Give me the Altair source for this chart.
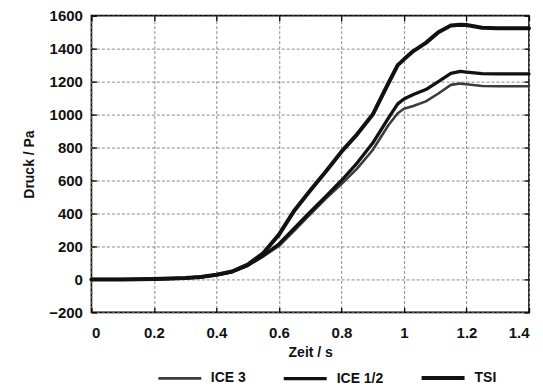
import altair as alt
import pandas as pd

# ---- data ----
series_names = ["ICE 3", "ICE 1/2", "TSI"]
time_s = [0, 0.1, 0.2, 0.3, 0.35, 0.4, 0.45, 0.5, 0.55, 0.6, 0.65, 0.7, 0.75, 0.8,
          0.85, 0.9, 0.95, 0.98, 1.0, 1.03, 1.07, 1.11, 1.15, 1.18, 1.2, 1.25, 1.3, 1.4]
tsi = [0, 0, 2, 8, 15, 28, 48, 90, 160, 272, 420, 540, 655, 775,
       880, 1000, 1190, 1300, 1335, 1385, 1435, 1500, 1540, 1545, 1543, 1527, 1524, 1524]
ice12 = [0, 0, 2, 8, 15, 28, 46, 85, 145, 215, 312, 409, 504, 600,
         706, 827, 978, 1065, 1095, 1122, 1152, 1200, 1250, 1262, 1258, 1248, 1247, 1247]
ice3 = [0, 0, 2, 8, 15, 28, 45, 83, 140, 203, 298, 395, 490, 578,
        672, 785, 935, 1008, 1035, 1052, 1080, 1128, 1180, 1188, 1184, 1173, 1172, 1172]

x_ticks = [0, 0.2, 0.4, 0.6, 0.8, 1.0, 1.2, 1.4]
y_ticks = [-200, 0, 200, 400, 600, 800, 1000, 1200, 1400, 1600]

rows = []
for name, vals in zip(series_names, [ice3, ice12, tsi]):
    for t, v in zip(time_s, vals):
        rows.append({"Zeit": t, "Druck": v, "Serie": name})
df = pd.DataFrame(rows)

FONT = "Liberation Sans"
xscale = alt.Scale(domain=[0, 1.4], nice=False, zero=False)
yscale = alt.Scale(domain=[-200, 1600], nice=False, zero=False)

x_main = alt.Axis(values=x_ticks, title="Zeit / s", grid=True, ticks=False, domain=False,
                  labelExpr="datum.value == 1 ? '1' : format(datum.value, '.1f') == '0.0' ? '0' : format(datum.value, '.1f')",
                  labelPadding=13, titlePadding=5)
y_main = alt.Axis(values=y_ticks, title="Druck / Pa", grid=True, ticks=False, domain=False,
                  format="d", labelPadding=9, titlePadding=12)

lines = alt.Chart(df).mark_line(strokeCap="round", strokeJoin="round").encode(
    x=alt.X("Zeit:Q", scale=xscale, axis=x_main),
    y=alt.Y("Druck:Q", scale=yscale, axis=y_main),
    color=alt.Color("Serie:N", sort=series_names,
                    scale=alt.Scale(domain=series_names, range=["#3c3c3c", "#111111", "#111111"]),
                    legend=alt.Legend(orient="none", legendX=65.5, legendY=339, direction="horizontal",
                                      title=None, symbolType="stroke", symbolSize=1849,
                                      symbolStrokeWidth=3.5, labelOffset=8,
                                      labelFontSize=14, labelFont=FONT, labelFontWeight="bold",
                                      labelColor="#111", columnPadding=30)),
    strokeWidth=alt.StrokeWidth("Serie:N", sort=series_names,
                                scale=alt.Scale(domain=series_names, range=[2.6, 4, 4]), legend=None),
)

tick_axis = dict(labels=False, domain=False, grid=False, title=None, tickSize=5, offset=-5,
                 tickColor="#000", tickWidth=1.3)

ticks_a = alt.Chart(df).mark_line(opacity=0).encode(
    x=alt.X("Zeit:Q", scale=xscale, axis=alt.Axis(orient="top", values=x_ticks, **tick_axis)),
    y=alt.Y("Druck:Q", scale=yscale, axis=alt.Axis(orient="right", values=y_ticks, **tick_axis)),
)
ticks_b = alt.Chart(df).mark_line(opacity=0).encode(
    x=alt.X("Zeit:Q", scale=xscale, axis=alt.Axis(orient="bottom", values=x_ticks, **tick_axis)),
    y=alt.Y("Druck:Q", scale=yscale, axis=alt.Axis(orient="left", values=y_ticks, **tick_axis)),
)

chart = alt.layer(lines, ticks_a, ticks_b).resolve_axis(
    x="independent", y="independent"
).properties(
    width=438, height=297,
    autosize=alt.AutoSizeParams(type="none"),
    padding={"left": 83.5, "top": 7.5, "right": 6, "bottom": 75},
).configure_view(
    stroke="#000", strokeWidth=1.6
).configure_axis(
    labelFont=FONT, labelFontSize=15, labelFontWeight="bold", labelColor="#111",
    titleFont=FONT, titleFontSize=14, titleFontWeight="bold", titleColor="#111",
    gridColor="#8a8a8a", gridDash=[3, 2], gridWidth=1, gridOpacity=1,
)

chart.save("out.html", embed_options={"renderer": "svg", "actions": False})
